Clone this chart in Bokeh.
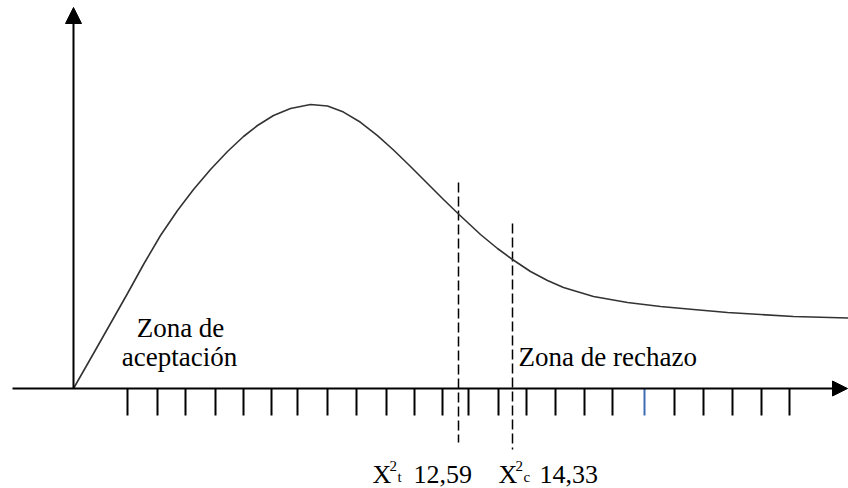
from bokeh.plotting import figure
from bokeh.models import Range1d, Arrow, NormalHead
from bokeh.core.properties import value
from bokeh.embed import file_html
from bokeh.resources import INLINE

# ---- data (diagram units: origin at axis crossing) ----
curve_x = [0, 20, 37, 54, 70, 87, 104, 120, 137, 154, 170, 184, 200, 217, 237,
           254, 270, 287, 304, 320, 337, 354, 370, 385, 407, 424, 439, 457, 474,
           490, 520, 554, 587, 620, 654, 687, 720, 775]
curve_y = [0, 35, 65, 95, 124, 153, 178, 199, 219, 237, 252, 263, 273, 280, 284,
           282.5, 276.4, 266.2, 252.9, 238.5, 222, 205, 189, 174.5, 154, 140,
           129, 117, 108, 101, 92, 86, 82, 79, 76, 74, 72, 70.5]

tick_x = [54, 84, 112, 142, 170, 198, 224, 254, 283, 313, 341, 369, 395, 425,
          453, 482, 511, 539, 571, 601, 630, 659, 688, 716]
tick_colors = ["black"] * 24
tick_colors[18] = "#3e6db5"

crit_x = [385, 439]
crit_top = [206, 165]
crit_bottom = [-54, -61]
crit_sub = ["t", "c"]
crit_values = ["12,59", "14,33"]

zone_left = ["Zona de", "aceptación"]
zone_right = ["Zona de rechazo"]

FONT = value("Liberation Serif")

p = figure(width=848, height=488, x_range=Range1d(-73, 775), y_range=Range1d(-100, 388),
           output_backend="svg", toolbar_location=None, min_border=0,
           x_axis_type=None, y_axis_type=None)
p.outline_line_color = None
p.background_fill_color = "white"
p.border_fill_color = "white"

# axes with arrows
p.add_layout(Arrow(end=NormalHead(size=15, fill_color="black", line_color="black"),
                   x_start=-61, y_start=0, x_end=774, y_end=0,
                   line_width=2, line_color="black"))
p.add_layout(Arrow(end=NormalHead(size=16, fill_color="black", line_color="black"),
                   x_start=0, y_start=0, x_end=0, y_end=381,
                   line_width=2, line_color="black"))

# tick marks below the x axis
p.segment(x0=tick_x, y0=[0] * len(tick_x), x1=tick_x, y1=[-27] * len(tick_x),
          line_width=2, line_color=tick_colors)

# critical value dashed lines
p.segment(x0=crit_x, y0=crit_top, x1=crit_x, y1=crit_bottom,
          line_width=1.5, line_color="black", line_dash="10 4")

# distribution curve
p.line(curve_x, curve_y, line_width=1.6, line_color="#333333")

# zone labels
p.text(x=[107, 106], y=[61, 31.5], text=zone_left, text_font=FONT,
       text_font_size="27px", text_align="center", text_baseline="alphabetic",
       text_color="black")
p.text(x=[445], y=[31.5], text=zone_right, text_font=FONT,
       text_font_size="27px", text_align="left", text_baseline="alphabetic",
       text_color="black")

# critical value labels: X^2_sub value
lx = [299, 425]
p.text(x=lx, y=[-86, -86], text=["X", "X"], text_font=FONT, text_font_size="26px",
       text_align="left", text_baseline="alphabetic", text_color="black")
p.text(x=[v + 17 for v in lx], y=[-77, -77], text=["2", "2"], text_font=FONT,
       text_font_size="15px", text_align="left", text_baseline="alphabetic",
       text_color="black")
p.text(x=[v + 25 for v in lx], y=[-88, -88], text=crit_sub, text_font=FONT,
       text_font_size="15px", text_align="left", text_baseline="alphabetic",
       text_color="black")
p.text(x=[v + 41 for v in lx], y=[-86, -86], text=crit_values, text_font=FONT,
       text_font_size="26px", text_align="left", text_baseline="alphabetic",
       text_color="black")

open("out.html", "w").write(file_html(p, INLINE))
